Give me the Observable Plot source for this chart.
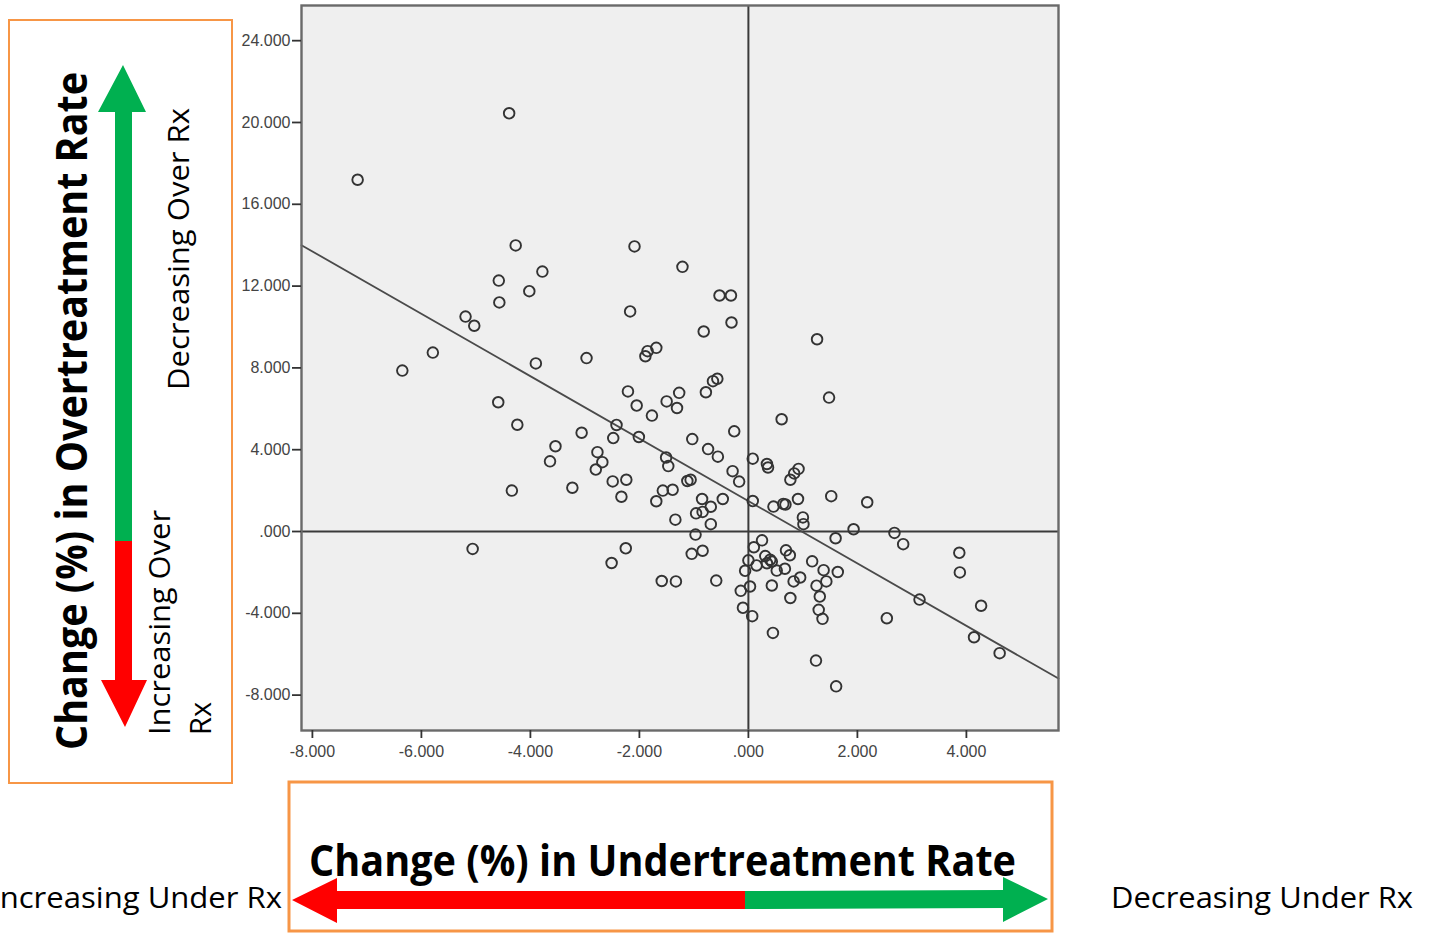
<!DOCTYPE html>
<html>
<head>
<meta charset="utf-8">
<script src="https://cdn.jsdelivr.net/npm/d3@7"></script>
<script src="https://cdn.jsdelivr.net/npm/@observablehq/plot@0.6"></script>
<style>
  html, body { margin: 0; padding: 0; background: #ffffff; overflow: hidden; }
  #wrap { position: relative; width: 1431px; height: 933px; }
  #chart { position: absolute; left: 0; top: 0; }
  #deco { position: absolute; left: 0; top: 0; pointer-events: none; }
</style>
</head>
<body>
<div id="wrap">
  <div id="chart"></div>
  <svg id="deco" width="1431" height="933" xmlns="http://www.w3.org/2000/svg">
    <!-- left annotation box -->
    <rect x="9" y="20" width="223" height="763" fill="none" stroke="#f79646" stroke-width="2"/>
    <polygon points="115,541 115,112 98,112 123,65 146,112 132,112 132,541" fill="#00b050"/>
    <polygon points="115,541 132,541 132,680 147,680 125,727 101,680 115,680" fill="#ff0000"/>
    <text transform="translate(87,411) rotate(-90)" text-anchor="middle"
          font-family="Liberation Sans Narrow, Open Sans, sans-serif" font-weight="bold" font-size="43"
          textLength="678" lengthAdjust="spacingAndGlyphs" fill="#000">Change (%) in Overtreatment Rate</text>
    <text transform="translate(189,249) rotate(-90)" text-anchor="middle"
          font-family="Open Sans, sans-serif" font-size="29" textLength="282" lengthAdjust="spacingAndGlyphs"
          fill="#000">Decreasing Over Rx</text>
    <text transform="translate(170,735) rotate(-90)" text-anchor="start"
          font-family="Open Sans, sans-serif" font-size="29" textLength="225" lengthAdjust="spacingAndGlyphs"
          fill="#000">Increasing Over</text>
    <text transform="translate(211,735) rotate(-90)" text-anchor="start"
          font-family="Open Sans, sans-serif" font-size="29" fill="#000">Rx</text>

    <!-- bottom annotation box -->
    <rect x="289" y="782" width="763" height="149" fill="none" stroke="#f79646" stroke-width="3"/>
    <text x="309" y="876" font-family="Liberation Sans Narrow, Open Sans, sans-serif" font-weight="bold"
          font-size="43" textLength="707" lengthAdjust="spacingAndGlyphs" fill="#000">Change (%) in Undertreatment Rate</text>
    <polygon points="746,891 337,891 337,878 292,900 337,923 337,909 746,909" fill="#ff0000"/>
    <polygon points="745,891 1003,890 1003,877 1048,899 1003,922 1003,908 745,909" fill="#00b050"/>
    <text x="282" y="908" text-anchor="end" font-family="Open Sans, sans-serif" font-size="29"
          textLength="291" lengthAdjust="spacingAndGlyphs" fill="#000">Increasing Under Rx</text>
    <text x="1111" y="908" font-family="Open Sans, sans-serif" font-size="29"
          textLength="302" lengthAdjust="spacingAndGlyphs" fill="#000">Decreasing Under Rx</text>
  </svg>
</div>
<script>
// Change (%) in Undertreatment Rate (x) for each point
const underChange = [
  -4.39, -7.17, -4.27, -2.09, -1.21, -4.58, -3.78, -4.02, -4.57, -0.53,
  -0.32, -2.17, -5.19, -5.03, -0.31, -0.82, 1.26, -5.79, -6.35, -3.90,
  -2.97, -1.69, -1.85, -1.89, -0.57, -0.65, -0.78, -2.21, -1.27, -2.05,
  -1.50, -1.31, -4.59, 1.48, -1.77, 0.61, -4.24, -3.06, -2.42, -2.48,
  -2.01, -1.03, -0.26, -3.54, -3.64, -2.77, -2.68, -2.80, -1.51, -1.47,
  -0.74, -0.56, 0.08, 0.34, 0.36, 0.92, 0.84, 0.77, -0.29, -0.17,
  -4.34, -3.23, -2.49, -2.24, -2.33, -1.12, -1.06, -1.57, -1.39, -1.69,
  -0.85, -0.47, -0.69, -0.96, -0.84, 0.08, 0.46, 0.64, 0.68, 0.91,
  1.52, 2.18, -1.34, -0.69, 1.00, 1.01, 1.93, 2.68, 2.84, 1.60,
  -0.97, 0.25, -5.06, -2.25, -2.51, -1.04, -0.84, 0.10, 0.69, 0.76,
  0.31, 0.40, 0.43, 0.34, 0.00, 0.15, -0.06, 0.52, 0.67, 1.17,
  1.38, 1.64, -1.59, -1.33, -0.59, 0.95, 0.83, 1.43, 1.25, 0.03,
  -0.14, 0.43, 0.77, 1.31, -0.10, 0.07, 1.29, 1.36, 2.54, 3.14,
  3.87, 3.88, 4.27, 4.14, 4.61, 0.45, 1.24, 1.61
];
// Change (%) in Overtreatment Rate (y) for each point
const overChange = [
  20.45, 17.20, 13.99, 13.94, 12.94, 12.27, 12.71, 11.75, 11.20, 11.54,
  11.54, 10.76, 10.51, 10.06, 10.22, 9.78, 9.40, 8.75, 7.87, 8.22,
  8.48, 8.98, 8.82, 8.57, 7.47, 7.35, 6.81, 6.85, 6.78, 6.16,
  6.36, 6.04, 6.32, 6.55, 5.67, 5.49, 5.22, 4.83, 5.21, 4.57,
  4.62, 4.52, 4.90, 4.17, 3.43, 3.88, 3.39, 3.03, 3.62, 3.20,
  4.03, 3.66, 3.56, 3.30, 3.13, 3.06, 2.84, 2.53, 2.95, 2.44,
  2.00, 2.14, 2.45, 2.53, 1.70, 2.47, 2.53, 2.00, 2.04, 1.48,
  1.59, 1.59, 1.21, 0.89, 0.96, 1.49, 1.22, 1.35, 1.32, 1.59,
  1.73, 1.43, 0.58, 0.36, 0.69, 0.36, 0.11, -0.07, -0.62, -0.33,
  -0.15, -0.43, -0.85, -0.82, -1.54, -1.09, -0.94, -0.77, -0.92, -1.16,
  -1.20, -1.38, -1.47, -1.55, -1.41, -1.66, -1.92, -1.91, -1.82, -1.46,
  -1.89, -1.98, -2.42, -2.44, -2.40, -2.25, -2.44, -2.44, -2.65, -2.69,
  -2.90, -2.64, -3.25, -3.18, -3.73, -4.14, -3.83, -4.27, -4.24, -3.33,
  -1.04, -2.00, -3.63, -5.17, -5.95, -4.96, -6.31, -7.57
];
// Fit line end points
const fitX = [-8.2, 5.69];
const fitY = [14.0, -7.19];
// Tick values
const xTicks = [-8, -6, -4, -2, 0, 2, 4];
const yTicks = [-8, -4, 0, 4, 8, 12, 16, 20, 24];

const points = underChange.map((x, i) => ({x, y: overChange[i]}));
const fit = fitX.map((x, i) => ({x, y: fitY[i]}));
const fmt = d => d === 0 ? ".000" : d.toFixed(3);

const chart = Plot.plot({
  width: 1431,
  height: 933,
  marginLeft: 301,
  marginRight: 373,
  marginTop: 5,
  marginBottom: 203,
  style: {background: "transparent", fontFamily: "Liberation Sans, Arial, sans-serif", fontSize: "16px", color: "#444"},
  x: {domain: [-8.2, 5.69]},
  y: {domain: [-9.73, 25.72]},
  marks: [
    Plot.frame({fill: "#efefef", stroke: "none"}),
    Plot.ruleX([0], {stroke: "#3a3a3a", strokeWidth: 2}),
    Plot.ruleY([0], {stroke: "#3a3a3a", strokeWidth: 2}),
    Plot.line(fit, {x: "x", y: "y", stroke: "#4a4a4a", strokeWidth: 1.8}),
    Plot.dot(points, {x: "x", y: "y", r: 5.3, stroke: "#333", strokeWidth: 1.9, fill: "none"}),
    Plot.frame({stroke: "#6a6a6a", strokeWidth: 2.4}),
    Plot.axisX({ticks: xTicks, tickFormat: fmt, tickSize: 8, tickPadding: 7, label: null, stroke: "#333", fill: "#444", fontSize: 16, strokeWidth: 1.8}),
    Plot.axisY({ticks: yTicks, tickFormat: fmt, tickSize: 9, tickPadding: 2, label: null, stroke: "#333", fill: "#444", fontSize: 16, strokeWidth: 1.8})
  ]
});
document.getElementById("chart").appendChild(chart);
</script>
</body>
</html>
